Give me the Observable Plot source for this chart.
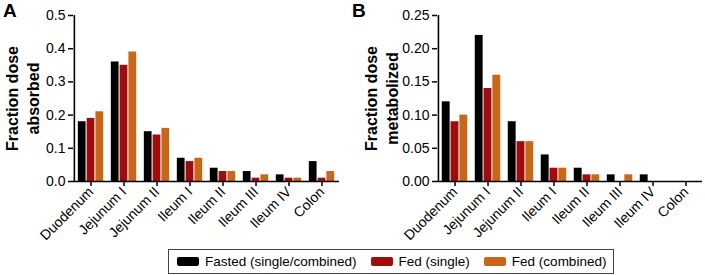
<!DOCTYPE html>
<html><head><meta charset="utf-8">
<script src="https://cdn.jsdelivr.net/npm/d3@7"></script>
<script src="https://cdn.jsdelivr.net/npm/@observablehq/plot@0.6"></script>
<style>
body{margin:0;background:#fff;font-family:"Liberation Sans",Arial,sans-serif;}
#wrap{position:relative;width:705px;height:275px;overflow:hidden;}
.panel{position:absolute;top:0;}
.letter{position:absolute;top:0px;font-weight:bold;font-size:19px;color:#000;}
#legend{position:absolute;left:168px;top:249px;height:23px;border:1px solid #444;display:flex;align-items:center;padding:0 7px 0 8px;font-size:13.5px;color:#000;white-space:nowrap;}
.sw{display:inline-block;width:22px;height:9px;border-radius:2px;margin-right:6px;}
.item{display:flex;align-items:center;margin-right:14px;}
.item:last-child{margin-right:0;}
</style>
</head><body>
<div id="wrap">
  <div class="letter" style="left:3px">A</div>
  <div class="letter" style="left:352px">B</div>
  <div id="panelA" class="panel" style="left:0px"></div>
  <div id="panelB" class="panel" style="left:350px"></div>
  <div id="legend"></div>
</div>
<script>
const categories = ["Duodenum", "Jejunum I", "Jejunum II", "Ileum I", "Ileum II", "Ileum III", "Ileum IV", "Colon"];
const series = ["Fasted (single/combined)", "Fed (single)", "Fed (combined)"];
const colors = ["#000000", "#a00b0b", "#c8661a"];

const absorbedFasted     = [0.18, 0.36, 0.15, 0.07, 0.04, 0.03, 0.02, 0.06];
const absorbedFedSingle  = [0.19, 0.35, 0.14, 0.06, 0.03, 0.01, 0.01, 0.01];
const absorbedFedComb    = [0.21, 0.39, 0.16, 0.07, 0.03, 0.02, 0.01, 0.03];

const metabFasted        = [0.12, 0.22, 0.09, 0.04, 0.02, 0.01, 0.01, 0.00];
const metabFedSingle     = [0.09, 0.14, 0.06, 0.02, 0.01, 0.00, 0.00, 0.00];
const metabFedComb       = [0.10, 0.16, 0.06, 0.02, 0.01, 0.01, 0.00, 0.00];

const yTicksA = [0, 0.1, 0.2, 0.3, 0.4, 0.5];
const yTicksB = [0, 0.05, 0.10, 0.15, 0.20, 0.25];

function panel({values, ymax, ticks, fmt, width, marginLeft, marginRight, label, labelDx}) {
  const rows = categories.flatMap((c, i) => series.map((s, j) => ({cat: c, series: s, value: values[j][i]})));
  const bw = (width - marginLeft - marginRight) / categories.length;
  const barW = 8;
  const step = 8.8;
  const ins = (bw - barW) / 2;
  const offs = [-step, 0, step];
  return Plot.plot({
    width, height: 248, marginLeft, marginRight, marginTop: 15, marginBottom: 67,
    style: {fontFamily: '"Liberation Sans", Arial, sans-serif', fontSize: "14px", color: "#000", background: "transparent"},
    x: {domain: categories, padding: 0, axis: null, label: null},
    y: {domain: [0, ymax], axis: null, label: null},
    color: {domain: series, range: colors},
    marks: [
      ...series.map((s, j) => Plot.barY(rows.filter(d => d.series === s), {
        x: "cat", y: "value", fill: "series", dx: offs[j], insetLeft: ins, insetRight: ins
      })),
      Plot.axisY({ticks, tickFormat: d3.format(fmt), tickSize: 5, tickPadding: 3, strokeWidth: 1.5, fontSize: 14, label: null}),
      Plot.axisX({tickRotate: -45, tickSize: 5, tickPadding: 3, strokeWidth: 1.5, fontSize: 14, label: null}),
      Plot.ruleY([0], {strokeWidth: 1.6}),
      Plot.ruleX([categories[0]], {dx: -bw / 2, strokeWidth: 1.6}),
      Plot.text([label], {text: d => d, frameAnchor: "left", textAnchor: "middle", rotate: -90, dx: labelDx, fontSize: 16, fontWeight: "bold", lineHeight: 1.3})
    ]
  });
}

document.getElementById("panelA").appendChild(panel({
  values: [absorbedFasted, absorbedFedSingle, absorbedFedComb],
  ymax: 0.5, ticks: yTicksA, fmt: ".1f", width: 350, marginLeft: 73, marginRight: 11,
  label: "Fraction dose\nabsorbed", labelDx: -52
}));
document.getElementById("panelB").appendChild(panel({
  values: [metabFasted, metabFedSingle, metabFedComb],
  ymax: 0.25, ticks: yTicksB, fmt: ".2f", width: 355, marginLeft: 87, marginRight: 3,
  label: "Fraction dose\nmetabolized", labelDx: -57
}));

const legend = document.getElementById("legend");
series.forEach((s, j) => {
  const it = document.createElement("div");
  it.className = "item";
  const sw = document.createElement("span");
  sw.className = "sw";
  sw.style.background = colors[j];
  const t = document.createElement("span");
  t.textContent = s;
  it.appendChild(sw); it.appendChild(t);
  legend.appendChild(it);
});
</script>
</body></html>
